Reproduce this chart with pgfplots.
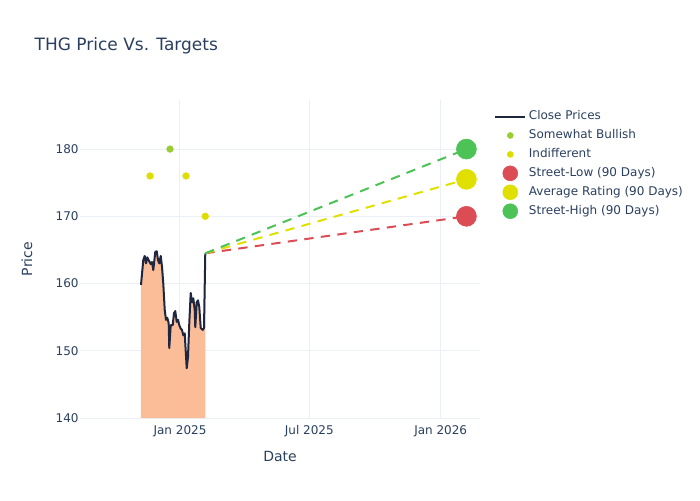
\documentclass[border=0pt]{standalone}
\usepackage{pgfplots}
\pgfplotsset{compat=1.18}
\usepackage{fontspec}
\setmainfont{DejaVu Sans}
\definecolor{txt}{HTML}{2A3F5F}
\definecolor{gridc}{HTML}{EBF0F8}
\definecolor{closec}{HTML}{1F2640}
\definecolor{fillc}{HTML}{FBBC98}
\definecolor{bull}{HTML}{9ACD32}
\definecolor{indiff}{HTML}{DDDD00}
\definecolor{lowc}{HTML}{DC4C54}
\definecolor{avgc}{HTML}{E0E000}
\definecolor{highc}{HTML}{4CC257}
\pgfplotsset{
  lineleg/.style={legend image code/.code={\draw[##1, line width=1.5pt] (0pt,0pt) -- (22.5pt,0pt);}},
  smallleg/.style={legend image code/.code={\draw[##1, mark size=2.25pt] plot coordinates {(11.25pt,0pt)};}},
  bigleg/.style={legend image code/.code={\draw[##1, mark size=5.6pt] plot coordinates {(11.25pt,0pt)};}},
}
\begin{document}
\begin{tikzpicture}
\path[use as bounding box] (0,0) rectangle (525pt,375pt);
\node[anchor=west, text=txt, font=\fontsize{12.75pt}{15pt}\selectfont] at (22.5pt,340.5pt) {THG Price Vs. Targets};
\begin{axis}[
  at={(60pt,61.5pt)}, anchor=south west,
  scale only axis, width=300pt, height=238.5pt,
  xmin=-140, xmax=420, ymin=140, ymax=187.3,
  axis line style={draw=none}, tick style={draw=none},
  xtick={0,181,365}, xticklabels={Jan 2025,Jul 2025,Jan 2026},
  ytick={140,150,160,170,180},
  grid=major, major grid style={gridc, line width=0.75pt},
  /pgf/number format/assume math mode=true,
  ticklabel style={text=txt, font=\fontsize{9pt}{11pt}\selectfont},
  xticklabel style={yshift=-2pt},
  yticklabel style={xshift=2.5pt},
  xlabel={Date}, ylabel={Price},
  label style={text=txt, font=\fontsize{10.5pt}{12pt}\selectfont},
  xlabel style={at={(axis description cs:0.5,-0.1195)}, anchor=center},
  ylabel style={at={(axis description cs:-0.1325,0.5)}, anchor=center},
  legend style={at={(1.025,0.987)}, anchor=north west, draw=none, fill=none,
    font=\fontsize{9pt}{11pt}\selectfont, text=txt, row sep=0pt,
    nodes={text height=6.6pt, text depth=2pt, inner ysep=2.8pt}},
  legend cell align=left,
  clip=true,
]
\addplot[fill=fillc, draw=none, forget plot] coordinates {
(-54.6,159.8) (-51.4,163.5) (-49.4,164.1) (-47.6,163.0) (-45.8,163.9) (-43.0,163.3)
(-41.0,162.9) (-39.2,163.2) (-37.4,162.0) (-34.6,164.7) (-32.6,164.8) (-30.8,163.5)
(-29.0,163.0) (-27.0,164.1) (-25.2,162.5) (-23.4,160.0) (-21.4,156.1) (-19.6,154.6)
(-17.8,154.9) (-15.8,154.1) (-15.0,150.4) (-13.0,153.8) (-10.2,153.8) (-8.4,155.6)
(-6.6,155.9) (-4.6,154.3) (-2.8,154.6) (-1.0,153.8) (1.0,153.3) (2.8,153.1)
(4.6,152.3) (6.6,152.6) (7.4,151.1) (9.4,147.4) (11.2,149.1) (13.0,154.1)
(15.0,158.6) (16.8,157.2) (18.6,157.8) (20.6,156.1) (21.4,153.5) (23.4,157.2)
(25.2,157.5) (27.0,156.5) (29.0,153.4) (31.8,153.1) (33.6,153.4) (35.4,164.5)
} \closedcycle;
\addplot[closec, line width=1.5pt, line join=round, lineleg] coordinates {
(-54.6,159.8) (-51.4,163.5) (-49.4,164.1) (-47.6,163.0) (-45.8,163.9) (-43.0,163.3)
(-41.0,162.9) (-39.2,163.2) (-37.4,162.0) (-34.6,164.7) (-32.6,164.8) (-30.8,163.5)
(-29.0,163.0) (-27.0,164.1) (-25.2,162.5) (-23.4,160.0) (-21.4,156.1) (-19.6,154.6)
(-17.8,154.9) (-15.8,154.1) (-15.0,150.4) (-13.0,153.8) (-10.2,153.8) (-8.4,155.6)
(-6.6,155.9) (-4.6,154.3) (-2.8,154.6) (-1.0,153.8) (1.0,153.3) (2.8,153.1)
(4.6,152.3) (6.6,152.6) (7.4,151.1) (9.4,147.4) (11.2,149.1) (13.0,154.1)
(15.0,158.6) (16.8,157.2) (18.6,157.8) (20.6,156.1) (21.4,153.5) (23.4,157.2)
(25.2,157.5) (27.0,156.5) (29.0,153.4) (31.8,153.1) (33.6,153.4) (35.4,164.5)
};
\addlegendentry{Close Prices}
\addplot[lowc, line width=1.5pt, dash pattern=on 7pt off 5.5pt, forget plot] coordinates {(35.4,164.5) (401,170)};
\addplot[avgc, line width=1.5pt, dash pattern=on 7pt off 5.5pt, forget plot] coordinates {(35.4,164.5) (401,175.5)};
\addplot[highc, line width=1.5pt, dash pattern=on 7pt off 5.5pt, forget plot] coordinates {(35.4,164.5) (401,180)};
\addplot[only marks, mark=*, mark size=2.5pt, color=bull, smallleg] coordinates {(-14,180)};
\addlegendentry{Somewhat Bullish}
\addplot[only marks, mark=*, mark size=2.5pt, color=indiff, smallleg] coordinates {(-42,176) (8.4,176) (35.4,170)};
\addlegendentry{Indifferent}
\addplot[only marks, mark=*, mark size=7.5pt, color=lowc, bigleg] coordinates {(401,170)};
\addlegendentry{Street-Low (90 Days)}
\addplot[only marks, mark=*, mark size=7.5pt, color=avgc, bigleg] coordinates {(401,175.5)};
\addlegendentry{Average Rating (90 Days)}
\addplot[only marks, mark=*, mark size=7.5pt, color=highc, bigleg] coordinates {(401,180)};
\addlegendentry{Street-High (90 Days)}
\end{axis}
\end{tikzpicture}
\end{document}
